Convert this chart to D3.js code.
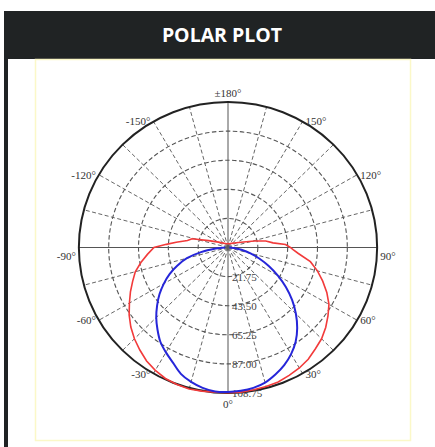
<!DOCTYPE html>
<html>
<head>
<meta charset="utf-8">
<script src="https://cdn.jsdelivr.net/npm/d3@7"></script>
<style>
    body { margin: 0; background: #ffffff; overflow: hidden; }
    #panel {
        position: absolute; left: 4px; top: 11px; width: 436px; height: 440px;
        border-left: 4px solid #202324; box-sizing: border-box; background: #fff;
    }
    #panelTitle {
        height: 48px; background: #202324; color: #fff; margin-left: -4px;
        font-family: "Open Sans", sans-serif; font-weight: 700; font-size: 19.5px;
        line-height: 48px; text-align: center;
    }
    #chart { position: absolute; left: 0; top: 0; }
</style>
</head>
<body>
<div id="panel"><div id="panelTitle">POLAR PLOT</div></div>
<svg id="chart" width="435" height="447"></svg>
<script>
// intensity (cd/klm), angle 0 = straight down
const redAngles = [-180, -160, -140, -120, -110, -104, -100, -96, -93, -90, -85, -80, -75, -70, -65, -60, -55, -50, -45, -40, -35, -30, -25, -20, -15, -10, -5,
    0, 5, 10, 15, 20, 25, 30, 35, 40, 45, 50, 55, 60, 65, 70, 75, 80, 85, 88, 90, 93, 96, 100, 104, 110, 120, 140, 160, 180];
const redValues = [3, 3, 4, 8, 15, 27, 30, 38, 45, 54, 59, 64.5, 70, 74, 78.5, 83, 88, 92.5, 96.5, 100, 103.5, 106, 108, 109, 109.5, 109, 108.5,
    108.5, 108.5, 108, 107.5, 107, 105.5, 104, 102, 99, 96.5, 93, 89, 85, 79.5, 73.5, 67.5, 61, 51.5, 47.5, 45.5, 42, 33, 28, 20, 12, 7, 4, 3, 3];

const blueAngles = [-90, -85, -80, -75, -70, -65, -60, -55, -50, -45, -40, -35, -30, -25, -20, -15, -10, -5,
    0, 5, 10, 15, 20, 25, 30, 35, 40, 45, 50, 55, 60, 65, 70, 75, 80, 85, 90];
const blueValues = [2, 9, 20, 31, 39, 47, 54, 61, 67.5, 74, 80, 86, 90.5, 95, 100.5, 104, 106.5, 108,
    108, 107.5, 106.5, 104.5, 101, 97, 92, 86, 78.5, 70, 61, 51.5, 42, 33, 24.5, 17, 10, 4, 1];

const ringValues = [21.75, 43.50, 65.25, 87.00, 108.75];
const ringLabels = ["21.75", "43.50", "65.25", "87.00", "108.75"];
const spokeAngles = d3.range(-165, 181, 15);
const angleTicks = [0, 30, 60, 90, 120, 150, 180, -30, -60, -90, -120, -150];
const angleLabels = ["0°", "30°", "60°", "90°", "120°", "150°", "±180°", "-30°", "-60°", "-90°", "-120°", "-150°"];

const svg = d3.select("#chart");
const cx = 228, cy = 247.5;
const stretchX = 1.025; // source image is a little wider than tall

// picture frame
svg.append("rect")
    .attr("x", 35.5).attr("y", 59.5).attr("width", 375).attr("height", 381)
    .attr("fill", "#fff").attr("stroke", "#fbf8c8").attr("stroke-width", 1.5);

const r = d3.scaleLinear().domain([0, 108.75]).range([0, 145.5]);
const rad = d => d * Math.PI / 180;
const px = (a, v) => cx + stretchX * r(v) * Math.sin(rad(a));
const py = (a, v) => cy + r(v) * Math.cos(rad(a));

const g = svg.append("g");

// spokes
g.selectAll(".spoke")
    .data(spokeAngles)
    .enter().append("line")
    .attr("class", "spoke")
    .attr("x1", cx).attr("y1", cy)
    .attr("x2", d => px(d, 108.75)).attr("y2", d => py(d, 108.75))
    .attr("stroke", d => d % 90 === 0 ? "#555" : "#666")
    .attr("stroke-width", 1)
    .attr("stroke-dasharray", d => d % 90 === 0 ? null : "4,2.5");

// rings
g.selectAll(".ring")
    .data(ringValues)
    .enter().append("ellipse")
    .attr("class", "ring")
    .attr("cx", cx).attr("cy", cy)
    .attr("rx", d => stretchX * r(d))
    .attr("ry", d => r(d))
    .attr("fill", "none")
    .attr("stroke", (d, i) => i === ringValues.length - 1 ? "#222" : "#555")
    .attr("stroke-width", (d, i) => i === ringValues.length - 1 ? 2 : 1.1)
    .attr("stroke-dasharray", (d, i) => i === ringValues.length - 1 ? null : "4.5,2.5");

// ring labels along 0 deg
g.selectAll(".ringLabel")
    .data(ringValues)
    .enter().append("text")
    .attr("x", cx + 4)
    .attr("y", d => cy + r(d) + 4)
    .attr("font-family", "Liberation Serif, serif")
    .attr("font-size", 11)
    .attr("fill", "#444")
    .text((d, i) => ringLabels[i]);

// angle labels
g.selectAll(".angleLabel")
    .data(angleTicks)
    .enter().append("text")
    .attr("x", d => {
        const s = Math.sin(rad(d));
        return px(d, 108.75) + (Math.abs(s) < 0.01 ? 0 : (s > 0 ? 3 : -3));
    })
    .attr("y", d => {
        if (Math.abs(d) === 180) return py(d, 108.75) - 5;
        if (d === 0) return py(d, 108.75) + 15;
        if (Math.abs(d) === 90) return py(d, 108.75) + 12;
        return py(d, 108.75) + 4;
    })
    .attr("text-anchor", d => {
        const s = Math.sin(rad(d));
        return Math.abs(s) < 0.01 ? "middle" : (s > 0 ? "start" : "end");
    })
    .attr("font-family", "Liberation Serif, serif")
    .attr("font-size", 11)
    .attr("fill", "#333")
    .text((d, i) => angleLabels[i]);

// curves
const line = d3.line()
    .x(d => px(d[0], d[1]))
    .y(d => py(d[0], d[1]));

g.append("path")
    .datum(d3.zip(redAngles, redValues))
    .attr("d", line)
    .attr("fill", "none")
    .attr("stroke", "#f23a3a")
    .attr("stroke-width", 1.6);

g.append("path")
    .datum(d3.zip(blueAngles, blueValues))
    .attr("d", line.curve(d3.curveCardinal))
    .attr("fill", "none")
    .attr("stroke", "#2626d9")
    .attr("stroke-width", 2);
</script>
</body>
</html>
